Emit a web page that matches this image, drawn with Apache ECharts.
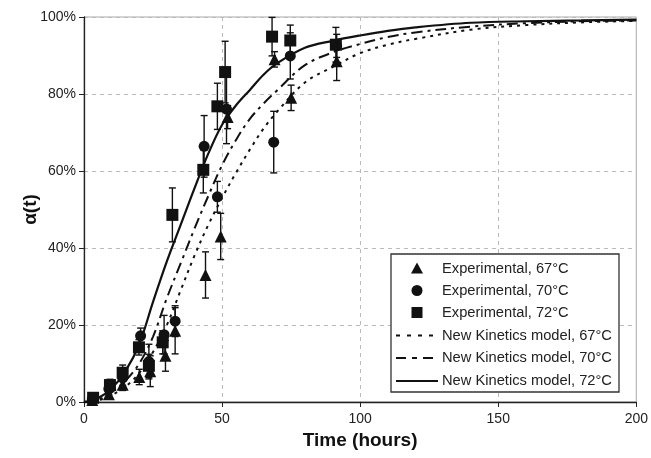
<!DOCTYPE html>
<html>
<head>
<meta charset="utf-8">
<script src="https://cdn.jsdelivr.net/npm/echarts@6/dist/echarts.min.js"></script>
<style>html,body{margin:0;padding:0;background:#fff}#c{width:651px;height:458px}</style>
</head>
<body>
<div id="c"></div>
<script>
// Experimental data: time (h), conversion (%), error (%)
const t67 = [3, 9, 14, 20, 24, 29.5, 33, 44, 49.5, 52, 69, 75, 91.5];
const a67 = [0.5, 2, 4.5, 6.5, 8, 12, 18.5, 33, 43, 74, 89, 79, 88.5];
const e67 = [0.5, 1, 1.5, 2, 4, 4, 6, 6, 6, 3, 2, 3.3, 5];

const t70 = [3, 9, 14, 20.5, 23.5, 29, 33, 43.5, 48.3, 51.6, 68.7, 74.7, 91.5];
const a70 = [0.8, 3.4, 6.3, 17.2, 10.5, 17.5, 21, 66.4, 53.3, 76.1, 67.5, 89.9, 92.5];
const e70 = [0.5, 1.5, 2, 2, 4.5, 5, 4, 8, 4, 9, 8, 6, 3];

const t72 = [3.3, 9.4, 14, 19.9, 23.5, 28.5, 32, 43.2, 48.3, 51.1, 68.1, 74.7, 91.2];
const a72 = [1.1, 4.4, 7.6, 14.2, 9.4, 15.5, 48.6, 60.3, 76.8, 85.7, 94.9, 93.9, 92.8];
const e72 = [0.5, 1.5, 2, 2, 3, 3, 7, 6, 6, 8, 5, 4, 4.5];

// Model curves
const tModel = [0, 5, 10, 15, 20, 25, 30, 35, 40, 45, 50, 55, 60, 65, 70, 80, 90, 100, 110, 120, 140, 160, 180, 200];
const m67 = [0, 0.4, 1.8, 4, 7.5, 13, 20, 29, 38, 46, 53, 59.5, 65.5, 71, 75.5, 83, 87, 90.6, 92.8, 94.3, 96.7, 97.9, 98.6, 99];
const m70 = [0, 0.6, 2.5, 5.5, 10, 17, 27, 36, 45, 53.5, 61.5, 68, 73.5, 77.5, 81, 87.5, 90.8, 93, 94.8, 96, 97.5, 98.4, 98.9, 99.1];
const m72 = [0, 1, 3.5, 8, 15, 26, 36.5, 46, 55.5, 64.5, 72, 77, 81, 85, 88, 92, 93.8, 95.2, 96.4, 97.3, 98.5, 98.9, 99.1, 99.3];

const names = ['Experimental, 67°C', 'Experimental, 70°C', 'Experimental, 72°C',
  'New Kinetics model, 67°C', 'New Kinetics model, 70°C', 'New Kinetics model, 72°C'];

const xTicks = [0, 50, 100, 150, 200];
const yTicks = [0, 20, 40, 60, 80, 100];

const FONT = "'Liberation Sans', Arial, sans-serif";
const BLACK = '#111';
const DOT = [3, 5];
const DASHDOT = [11, 5, 3, 5];

function zip3(t, a, e) { return t.map((v, i) => [v, a[i], e[i]]); }
function zip2(t, a) { return t.map((v, i) => [v, a[i]]); }

function errSeries(data) {
  return {
    type: 'custom',
    data: data,
    encode: { x: 0, y: 1 },
    silent: true,
    z: 3,
    renderItem: function (params, api) {
      const x = api.value(0), y = api.value(1), e = api.value(2);
      const top = api.coord([x, y + e]);
      const bot = api.coord([x, y - e]);
      const w = 3.5;
      const st = { stroke: BLACK, lineWidth: 1.4 };
      return {
        type: 'group',
        children: [
          { type: 'line', shape: { x1: top[0], y1: top[1], x2: bot[0], y2: bot[1] }, style: st },
          { type: 'line', shape: { x1: top[0] - w, y1: top[1], x2: top[0] + w, y2: top[1] }, style: st },
          { type: 'line', shape: { x1: bot[0] - w, y1: bot[1], x2: bot[0] + w, y2: bot[1] }, style: st }
        ]
      };
    }
  };
}

// Legend drawn as graphic elements
const LX = 391, LY = 254, LW = 228, LH = 138;
const rowY = [268.5, 290.5, 312.5, 335.5, 358, 381];
const markX = 417, lineX1 = 396, lineX2 = 438, textX = 442;
const legendEls = [
  { type: 'rect', shape: { x: LX, y: LY, width: LW, height: LH },
    style: { fill: '#fff', stroke: '#333', lineWidth: 1.3 }, z: 100 },
  { type: 'polygon', shape: { points: [[markX, rowY[0] - 6], [markX - 6, rowY[0] + 5], [markX + 6, rowY[0] + 5]] },
    style: { fill: BLACK }, z: 101 },
  { type: 'circle', shape: { cx: markX, cy: rowY[1], r: 5.5 }, style: { fill: BLACK }, z: 101 },
  { type: 'rect', shape: { x: markX - 5.5, y: rowY[2] - 5.5, width: 11, height: 11 }, style: { fill: BLACK }, z: 101 },
  { type: 'line', shape: { x1: lineX1, y1: rowY[3], x2: lineX2, y2: rowY[3] },
    style: { stroke: BLACK, lineWidth: 2, lineDash: [4, 7] }, z: 101 },
  { type: 'line', shape: { x1: lineX1, y1: rowY[4], x2: lineX2, y2: rowY[4] },
    style: { stroke: BLACK, lineWidth: 2, lineDash: [10, 6, 5, 6] }, z: 101 },
  { type: 'line', shape: { x1: lineX1, y1: rowY[5], x2: lineX2, y2: rowY[5] },
    style: { stroke: BLACK, lineWidth: 2 }, z: 101 }
];
names.forEach((n, i) => {
  legendEls.push({ type: 'text', x: textX, y: rowY[i], z: 101,
    style: { text: n, font: '14.7px ' + FONT, fill: '#222', textVerticalAlign: 'middle', textAlign: 'left' } });
});

const chart = echarts.init(document.getElementById('c'), null, { renderer: 'canvas' });
chart.setOption({
  animation: false,
  backgroundColor: '#fff',
  textStyle: { fontFamily: FONT },
  grid: { left: 84, right: 12, top: 17, bottom: 56, show: true, borderColor: '#aaa', borderWidth: 1 },
  xAxis: {
    type: 'value', min: 0, max: 200, interval: 50,
    name: 'Time (hours)', nameLocation: 'middle', nameGap: 29, nameMoveOverlap: false,
    nameTextStyle: { fontFamily: FONT, fontSize: 19, fontWeight: 'bold', color: '#111' },
    axisLine: { show: true, lineStyle: { color: '#222', width: 1.3 } },
    axisTick: { show: true, inside: false, length: 5, lineStyle: { color: '#222' } },
    axisLabel: { fontFamily: FONT, fontSize: 14, color: '#222', margin: 10,
      formatter: v => (xTicks.indexOf(v) >= 0 ? String(v) : '') },
    splitLine: { show: true, lineStyle: { color: '#bbb', type: [4, 4], width: 1 } }
  },
  yAxis: {
    type: 'value', min: 0, max: 100, interval: 20,
    name: 'α(t)', nameLocation: 'middle', nameGap: 44, nameRotate: 90, nameMoveOverlap: false,
    nameTextStyle: { fontFamily: FONT, fontSize: 19, fontWeight: 'bold', color: '#111' },
    axisLine: { show: true, lineStyle: { color: '#222', width: 1.3 } },
    axisTick: { show: true, inside: false, length: 5, lineStyle: { color: '#222' } },
    axisLabel: { fontFamily: FONT, fontSize: 14, color: '#222', margin: 8,
      formatter: v => (yTicks.indexOf(v) >= 0 ? v + '%' : '') },
    splitLine: { show: true, lineStyle: { color: '#bbb', type: [4, 4], width: 1 } }
  },
  graphic: legendEls,
  series: [
    errSeries(zip3(t67, a67, e67)),
    errSeries(zip3(t70, a70, e70)),
    errSeries(zip3(t72, a72, e72)),
    { name: names[0], type: 'scatter', data: zip2(t67, a67), symbol: 'triangle', symbolSize: 12,
      itemStyle: { color: BLACK, opacity: 1 }, z: 4 },
    { name: names[1], type: 'scatter', data: zip2(t70, a70), symbol: 'circle', symbolSize: 11,
      itemStyle: { color: BLACK, opacity: 1 }, z: 4 },
    { name: names[2], type: 'scatter', data: zip2(t72, a72), symbol: 'rect', symbolSize: 12,
      itemStyle: { color: BLACK, opacity: 1 }, z: 4 },
    { name: names[3], type: 'line', data: zip2(tModel, m67), smooth: 0.35, symbol: 'none',
      lineStyle: { color: BLACK, width: 2, type: DOT }, itemStyle: { color: BLACK }, z: 2 },
    { name: names[4], type: 'line', data: zip2(tModel, m70), smooth: 0.35, symbol: 'none',
      lineStyle: { color: BLACK, width: 2, type: DASHDOT }, itemStyle: { color: BLACK }, z: 2 },
    { name: names[5], type: 'line', data: zip2(tModel, m72), smooth: 0.35, symbol: 'none',
      lineStyle: { color: BLACK, width: 2.2, type: 'solid' }, itemStyle: { color: BLACK }, z: 2 }
  ]
});
</script>
</body>
</html>
